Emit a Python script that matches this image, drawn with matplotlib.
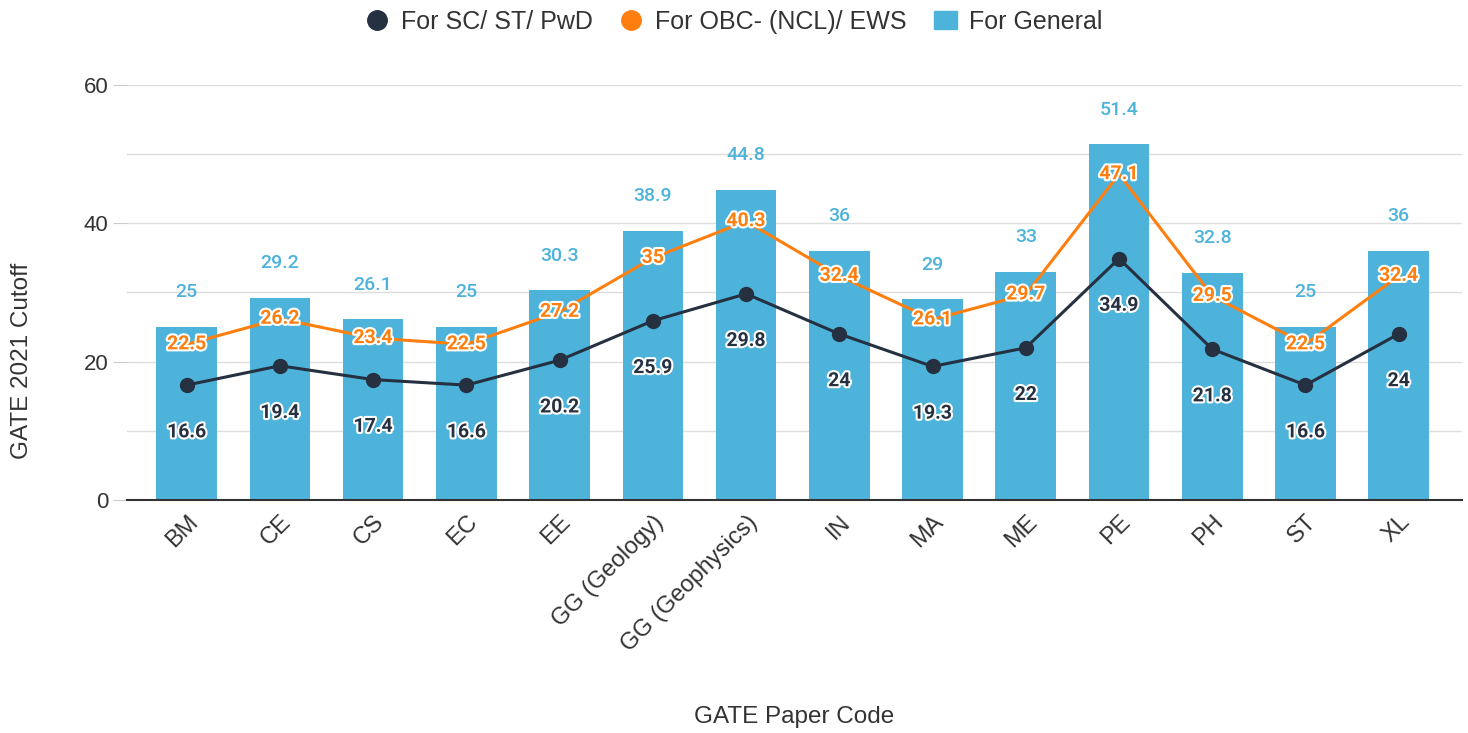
import numpy as np
import matplotlib
matplotlib.use("Agg")
import matplotlib.pyplot as plt
import matplotlib.patheffects as pe
from matplotlib.lines import Line2D
from matplotlib.patches import Patch

# GATE 2021 cutoffs by paper code
papers = ["BM", "CE", "CS", "EC", "EE", "GG (Geology)", "GG (Geophysics)",
          "IN", "MA", "ME", "PE", "PH", "ST", "XL"]
general = [25, 29.2, 26.1, 25, 30.3, 38.9, 44.8, 36, 29, 33, 51.4, 32.8, 25, 36]
obc_ews = [22.5, 26.2, 23.4, 22.5, 27.2, 35, 40.3, 32.4, 26.1, 29.7, 47.1, 29.5, 22.5, 32.4]
sc_st_pwd = [16.6, 19.4, 17.4, 16.6, 20.2, 25.9, 29.8, 24, 19.3, 22, 34.9, 21.8, 16.6, 24]

blue = "#4db3db"
orange = "#ff7f0e"
dark = "#253040"

plt.rcParams['font.family'] = ['Liberation Sans', 'DejaVu Sans']

fig = plt.figure(figsize=(14.68, 7.33), dpi=100)
ax = fig.add_axes([0.0865, 0.318, 0.9095, 0.566])

x = np.arange(len(papers))
ax.bar(x, general, width=0.65, color=blue, zorder=2)
ax.plot(x, obc_ews, color=orange, lw=2.2, zorder=3)
ax.plot(x, sc_st_pwd, color=dark, lw=2.2, marker='o', ms=10, zorder=3)

outline = [pe.withStroke(linewidth=3, foreground='white')]
lab_font = ['Roboto', 'DejaVu Sans']
for i in x:
    ax.annotate(f"{general[i]:g}", (i, general[i]), xytext=(0, 25), textcoords='offset points',
                ha='center', va='center', color=blue, fontsize=14, fontweight='medium',
                family=lab_font, zorder=5)
    ax.annotate(f"{obc_ews[i]:g}", (i, obc_ews[i]), xytext=(0, 0), textcoords='offset points',
                ha='center', va='center', color=orange, fontsize=14, fontweight='bold',
                family=lab_font, path_effects=outline, zorder=5)
    ax.annotate(f"{sc_st_pwd[i]:g}", (i, sc_st_pwd[i]), xytext=(0, -34), textcoords='offset points',
                ha='center', va='center', color=dark, fontsize=14, fontweight='bold',
                family=lab_font, path_effects=outline, zorder=5)

ax.set_ylim(0, 60)
ax.set_xlim(-0.64, 13.68)
ax.set_yticks([0, 20, 40, 60])
ax.set_yticks([10, 30, 50], minor=True)
ax.grid(axis='y', which='both', color='#dddddd', lw=1, zorder=0)
ax.tick_params(axis='y', which='major', length=10, color='#cccccc', labelsize=16, labelcolor='#333333')
ax.tick_params(axis='y', which='minor', length=0)
ax.tick_params(axis='x', length=0, labelsize=17, labelcolor='#333333', pad=8)
ax.set_xticks(x)
ax.set_xticklabels(papers, rotation=45, ha='right', rotation_mode='anchor')
for s in ['top', 'right', 'left']:
    ax.spines[s].set_visible(False)
ax.spines['bottom'].set_color('#333333')
ax.spines['bottom'].set_linewidth(1.5)

ax.set_ylabel("GATE 2021 Cutoff", fontsize=17.5, color='#333333', va='center')
ax.yaxis.set_label_coords(-0.079, 0.335)
ax.set_xlabel("GATE Paper Code", fontsize=17.5, color='#333333', va='center')
ax.xaxis.set_label_coords(0.5, -0.523)

handles = [Line2D([], [], marker='o', ls='none', color=dark, ms=14),
           Line2D([], [], marker='o', ls='none', color=orange, ms=14),
           Patch(color=blue)]
fig.legend(handles, ["For SC/ ST/ PwD", "For OBC- (NCL)/ EWS", "For General"],
           loc='center', bbox_to_anchor=(0.5, 0.97), ncol=3, frameon=False,
           fontsize=18, handlelength=0.9, handletextpad=0.5, columnspacing=1.1,
           labelcolor='#333333')

fig.savefig("out.png", dpi=100)
